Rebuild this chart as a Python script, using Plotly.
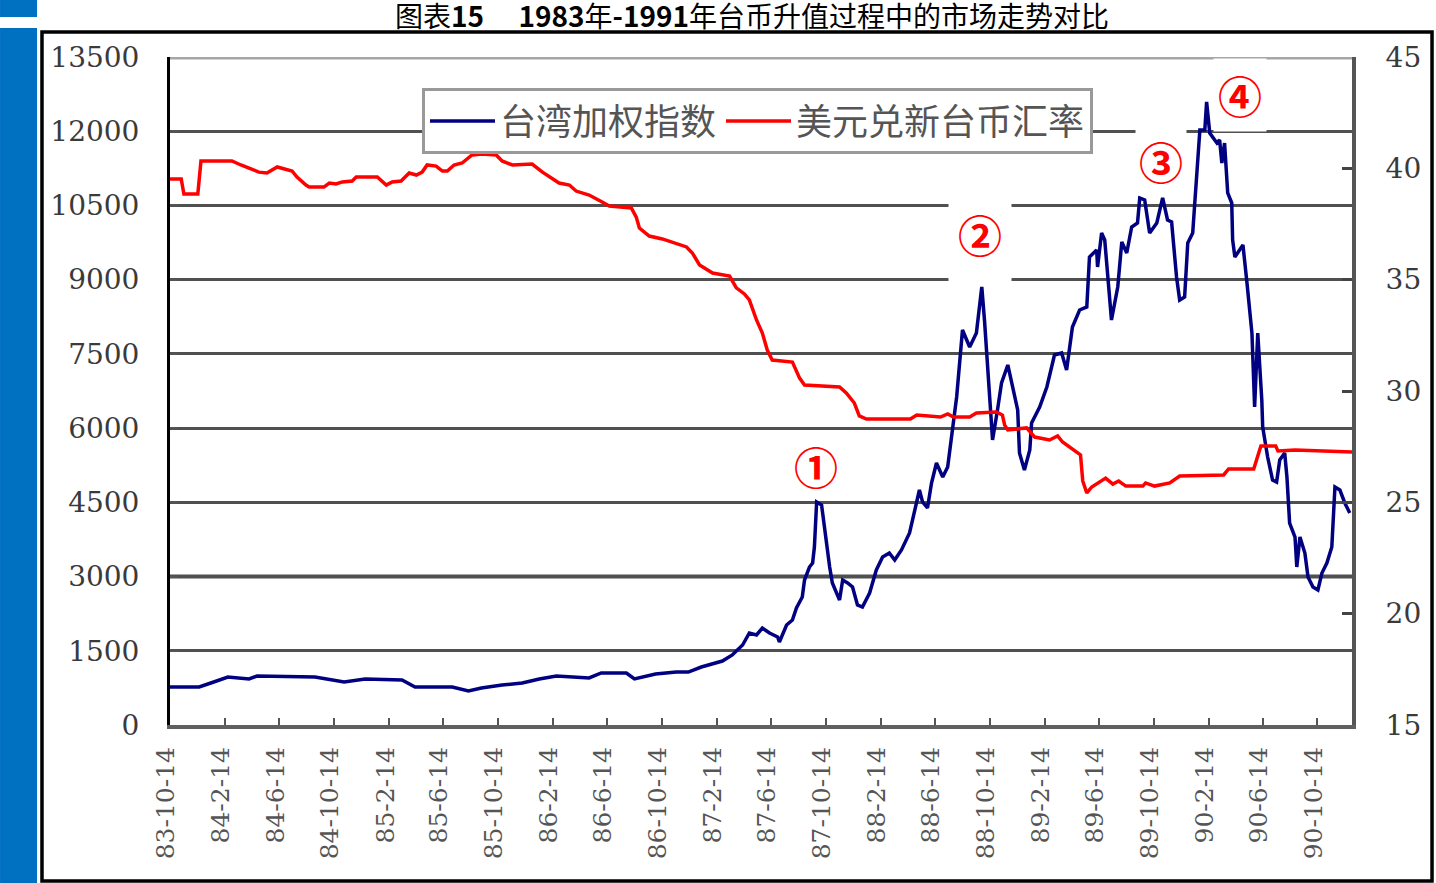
import plotly.graph_objects as go

# ---------------- data ----------------
taiex_dates = [
    "1983-10-14","1983-12-18","1984-01-13","1984-02-20","1984-04-07","1984-04-25","1984-09-01","1984-09-28","1984-11-05","1984-12-22",
    "1985-03-14","1985-04-12","1985-07-04","1985-08-09","1985-09-07","1985-10-23","1985-12-07","1986-01-14","1986-02-21","1986-05-05",
    "1986-06-01","1986-07-27","1986-08-14","1986-09-30","1986-11-15","1986-12-12","1987-01-10","1987-02-26","1987-03-20","1987-04-12",
    "1987-04-27","1987-05-13","1987-05-26","1987-06-11","1987-06-29","1987-07-03","1987-07-19","1987-08-01","1987-08-10","1987-08-23",
    "1987-08-28","1987-09-08","1987-09-15","1987-09-19","1987-09-24","1987-10-05","1987-10-11","1987-10-23","1987-10-29","1987-11-14",
    "1987-11-21","1987-12-02","1987-12-13","1987-12-24","1988-01-04","1988-01-20","1988-02-04","1988-02-18","1988-03-04","1988-03-16",
    "1988-03-31","1988-04-18","1988-05-10","1988-05-17","1988-05-28","1988-06-06","1988-06-17","1988-07-01","1988-07-12","1988-07-23",
    "1988-08-01","1988-08-14","1988-08-23","1988-08-30","1988-09-14","1988-09-26","1988-10-02","1988-10-09","1988-10-20","1988-10-31",
    "1988-11-09","1988-11-23","1988-12-04","1988-12-15","1988-12-19","1988-12-30","1989-01-11","1989-01-15","1989-02-02","1989-02-18",
    "1989-03-07","1989-03-23","1989-04-03","1989-04-10","1989-04-16","1989-05-02","1989-05-18","1989-05-24","1989-06-09","1989-06-11",
    "1989-06-20","1989-06-27","1989-07-12","1989-07-26","1989-08-04","1989-08-15","1989-08-26","1989-09-08","1989-09-13","1989-09-24",
    "1989-10-05","1989-10-21","1989-11-03","1989-11-14","1989-11-23","1989-12-04","1989-12-11","1989-12-22","1989-12-29","1990-01-09",
    "1990-01-18","1990-01-25","1990-02-05","1990-02-09","1990-02-16","1990-03-04","1990-03-10","1990-03-15","1990-03-21","1990-03-28",
    "1990-04-06","1990-04-08","1990-04-13","1990-04-24","1990-05-01","1990-05-10","1990-05-21","1990-05-27","1990-06-03","1990-06-12",
    "1990-06-14","1990-06-25","1990-07-06","1990-07-15","1990-07-22","1990-08-02","1990-08-07","1990-08-13","1990-08-25","1990-08-29",
    "1990-09-05","1990-09-16","1990-09-23","1990-10-04","1990-10-15","1990-10-24","1990-11-04","1990-11-15","1990-11-22","1990-12-03",
    "1990-12-14","1990-12-25",
]
taiex_values = [
    768, 768, 849, 970, 930, 990, 970, 930, 869, 930,
    909, 768, 768, 687, 748, 808, 849, 930, 990, 950,
    1051, 1051, 930, 1031, 1071, 1071, 1172, 1293, 1415, 1617,
    1859, 1819, 1960, 1859, 1778, 1677, 2021, 2122, 2365, 2587,
    2930, 3193, 3274, 3597, 4507, 4446, 4002, 3193, 2870, 2526,
    2930, 2870, 2789, 2425, 2385, 2668, 3133, 3395, 3476, 3335,
    3537, 3880, 4749, 4507, 4386, 4891, 5295, 5012, 5214, 5962,
    6629, 7983, 7781, 7639, 7922, 8852, 8185, 7175, 5760, 6366,
    6912, 7276, 6831, 6366, 5497, 5154, 5558, 6103, 6427, 6831,
    7478, 7518, 7175, 7639, 8044, 8387, 8448, 9458, 9600, 9256,
    9943, 9802, 8185, 8852, 9761, 9539, 10065, 10145, 10651, 10610,
    9943, 10145, 10651, 10206, 10166, 9054, 8589, 8650, 9741, 9943,
    11014, 12025, 12025, 12591, 11964, 11762, 11823, 11358, 11762, 10752,
    10550, 9802, 9458, 9600, 9701, 8933, 7922, 6427, 7922, 6568,
    6023, 5416, 4951, 4911, 5356, 5497, 5012, 4082, 3799, 3193,
    3799, 3476, 2991, 2789, 2728, 3072, 3274, 3597, 4810, 4749,
    4487, 4285,
]

fx_dates = [
    "1983-10-14","1983-11-08","1983-11-14","1983-12-15","1983-12-22","1984-02-29","1984-03-20","1984-04-07","1984-04-29","1984-05-17",
    "1984-06-09","1984-07-12","1984-07-23","1984-08-12","1984-08-19","1984-09-21","1984-10-03","1984-10-18","1984-11-01","1984-11-23",
    "1984-12-02","1985-01-18","1985-02-07","1985-02-20","1985-03-12","1985-03-30","1985-04-15","1985-04-28","1985-05-09","1985-05-29",
    "1985-06-12","1985-06-23","1985-07-08","1985-07-26","1985-08-17","1985-09-09","1985-10-10","1985-10-23","1985-11-15","1985-12-29",
    "1986-01-21","1986-02-27","1986-03-22","1986-04-06","1986-05-05","1986-06-03","1986-06-19","1986-08-07","1986-08-18","1986-08-25",
    "1986-09-16","1986-10-15","1986-11-06","1986-12-08","1986-12-21","1987-01-06","1987-02-04","1987-03-14","1987-03-29","1987-04-16",
    "1987-04-27","1987-05-13","1987-05-26","1987-06-06","1987-06-17","1987-08-01","1987-08-17","1987-08-28","1987-11-14","1987-11-29",
    "1987-12-17","1987-12-28","1988-01-13","1988-04-20","1988-05-04","1988-06-26","1988-07-12","1988-07-25","1988-08-30","1988-09-14",
    "1988-10-29","1988-11-11","1988-11-16","1988-11-23","1989-01-04","1989-01-15","1989-01-22","1989-02-24","1989-03-14","1989-03-25",
    "1989-04-10","1989-04-23","1989-05-04","1989-05-09","1989-05-18","1989-05-29","1989-06-29","1989-07-15","1989-07-28","1989-08-13",
    "1989-09-20","1989-09-26","1989-10-16","1989-11-19","1989-12-11","1990-03-19","1990-03-30","1990-05-25","1990-06-01","1990-06-10",
    "1990-07-13","1990-07-18","1990-08-25","1990-12-30",
]
fx_values = [
    39.52, 39.52, 38.85, 38.85, 40.33, 40.33, 40.15, 40.01, 39.83, 39.79,
    40.06, 39.88, 39.61, 39.25, 39.16, 39.16, 39.34, 39.30, 39.39, 39.43,
    39.61, 39.61, 39.25, 39.39, 39.43, 39.79, 39.70, 39.83, 40.15, 40.10,
    39.88, 39.88, 40.15, 40.24, 40.60, 40.64, 40.60, 40.33, 40.15, 40.19,
    39.83, 39.34, 39.25, 38.98, 38.80, 38.49, 38.31, 38.22, 37.81, 37.32,
    36.96, 36.83, 36.69, 36.47, 36.20, 35.66, 35.30, 35.16, 34.63, 34.36,
    34.09, 33.19, 32.60, 31.84, 31.39, 31.30, 30.58, 30.27, 30.18, 29.91,
    29.46, 28.88, 28.74, 28.74, 28.92, 28.83, 28.97, 28.83, 28.83, 29.01,
    29.06, 28.92, 28.47, 28.25, 28.34, 28.11, 27.93, 27.80, 27.98, 27.71,
    27.48, 27.31, 27.13, 25.96, 25.42, 25.69, 26.09, 25.82, 25.96, 25.73,
    25.73, 25.87, 25.73, 25.87, 26.18, 26.23, 26.50, 26.50, 26.95, 27.53,
    27.53, 27.31, 27.35, 27.26,
]

tick_dates = [
    "1983-10-14","1984-02-14","1984-06-14","1984-10-14","1985-02-14","1985-06-14","1985-10-14","1986-02-14",
    "1986-06-14","1986-10-14","1987-02-14","1987-06-14","1987-10-14","1988-02-14","1988-06-14","1988-10-14",
    "1989-02-14","1989-06-14","1989-10-14","1990-02-14","1990-06-14","1990-10-14",
]
tick_labels = [
    "83-10-14","84-2-14","84-6-14","84-10-14","85-2-14","85-6-14","85-10-14","86-2-14",
    "86-6-14","86-10-14","87-2-14","87-6-14","87-10-14","88-2-14","88-6-14","88-10-14",
    "89-2-14","89-6-14","89-10-14","90-2-14","90-6-14","90-10-14",
]

marker_labels = ["①", "②", "③", "④"]
marker_dates = ["1987-09-23", "1988-09-23", "1989-10-30", "1990-04-24"]
marker_values = [5234, 9923, 11398, 12730]
marker_box_w = [44, 60, 48, 50]
marker_box_h = [56, 94, 66, 70]

series_names = ["台湾加权指数", "美元兑新台币汇率"]
title_text = "图表<b>15</b>\u3000 <b>1983</b>年<b>-1991</b>年台币升值过程中的市场走势对比"

# ---------------- figure ----------------
NAVY = "#000080"
RED = "#FF0000"
TICKFONT = dict(family="DejaVu Serif", size=28, color="#3a3a3a")

fig = go.Figure()
fig.add_trace(go.Scatter(x=taiex_dates, y=taiex_values, name=series_names[0], mode="lines",
                         line=dict(color=NAVY, width=3.5), yaxis="y"))
fig.add_trace(go.Scatter(x=fx_dates, y=fx_values, name=series_names[1], mode="lines",
                         line=dict(color=RED, width=3.5), yaxis="y2"))

fig.update_layout(
    width=1436, height=883,
    paper_bgcolor="white", plot_bgcolor="white",
    margin=dict(l=170, r=84, t=57, b=158),
    title=dict(text=title_text, x=0.5237, xanchor="center", y=0.98075, yanchor="middle",
               pad=dict(t=0, b=0),
               font=dict(family="Noto Sans CJK SC", size=28, color="black")),
    showlegend=True,
    legend=dict(orientation="h", x=0.2132, xanchor="left", y=0.9042, yanchor="middle",
                bgcolor="white", bordercolor="#999999", borderwidth=3,
                font=dict(family="Noto Sans CJK SC", size=36, color="#555555"),
                itemwidth=65),
    xaxis=dict(type="date", range=["1983-10-14", "1990-12-30"],
               tickmode="array", tickvals=tick_dates, ticktext=tick_labels,
               tickangle=-90, ticks="inside", ticklen=7, tickwidth=2, tickcolor="#555555",
               tickfont=dict(family="DejaVu Serif", size=25, color="#555555"),
               ticklabelstandoff=8, ticklabelshift=-4,
               showgrid=False, showline=True, linecolor="#606060", linewidth=4,
               zeroline=False),
    yaxis=dict(range=[0, 13500], tickmode="linear", tick0=0, dtick=1500, tickformat="d",
               ticks="inside", ticklen=8, tickwidth=2, tickcolor="#555555",
               tickfont=TICKFONT, ticklabelstandoff=22,
               showgrid=True, gridcolor="#505050", gridwidth=3,
               showline=True, linecolor="black", linewidth=3, zeroline=False),
    yaxis2=dict(range=[15, 45], tickmode="linear", tick0=15, dtick=5, tickformat="d",
                overlaying="y", side="right",
                ticks="inside", ticklen=10, tickwidth=3, tickcolor="#444444",
                tickfont=TICKFONT, ticklabelstandoff=24,
                showgrid=False, showline=True, linecolor="#555555", linewidth=4,
                zeroline=False),
)

# light-grey guide lines (top and 3000)
for yv in (3000, 13500):
    fig.add_shape(type="line", xref="paper", x0=0, x1=1, yref="y", y0=yv, y1=yv,
                  line=dict(color="#a6a6a6", width=5), layer="between")

# numbered markers
for lab, xd, yv, w, h in zip(marker_labels, marker_dates, marker_values, marker_box_w, marker_box_h):
    fig.add_annotation(x=xd, y=yv, xref="x", yref="y", text="<b>" + lab + "</b>", showarrow=False,
                       font=dict(family="Noto Sans CJK SC", size=44, color=RED),
                       bgcolor="white", width=w, height=h, align="center", valign="middle")

# decoration: side bar and frame
fig.add_shape(type="rect", xref="paper", yref="paper", x0=-0.1438, x1=-0.1125, y0=1.0599, y1=1.0853,
              fillcolor="#0070C0", line=dict(width=0), layer="above")
fig.add_shape(type="rect", xref="paper", yref="paper", x0=-0.1438, x1=-0.1125, y0=-0.2365, y1=1.0434,
              fillcolor="#0070C0", line=dict(width=0), layer="above")
fig.add_shape(type="rect", xref="paper", yref="paper", x0=-0.1083, x1=1.0677, y0=-0.2335, y1=1.0374,
              fillcolor="rgba(0,0,0,0)", line=dict(color="black", width=3.5), layer="above")

fig.write_html("out.html",
               config={"displayModeBar": False},
               post_script="document.body.style.margin='0px';document.body.style.overflow='hidden';")
